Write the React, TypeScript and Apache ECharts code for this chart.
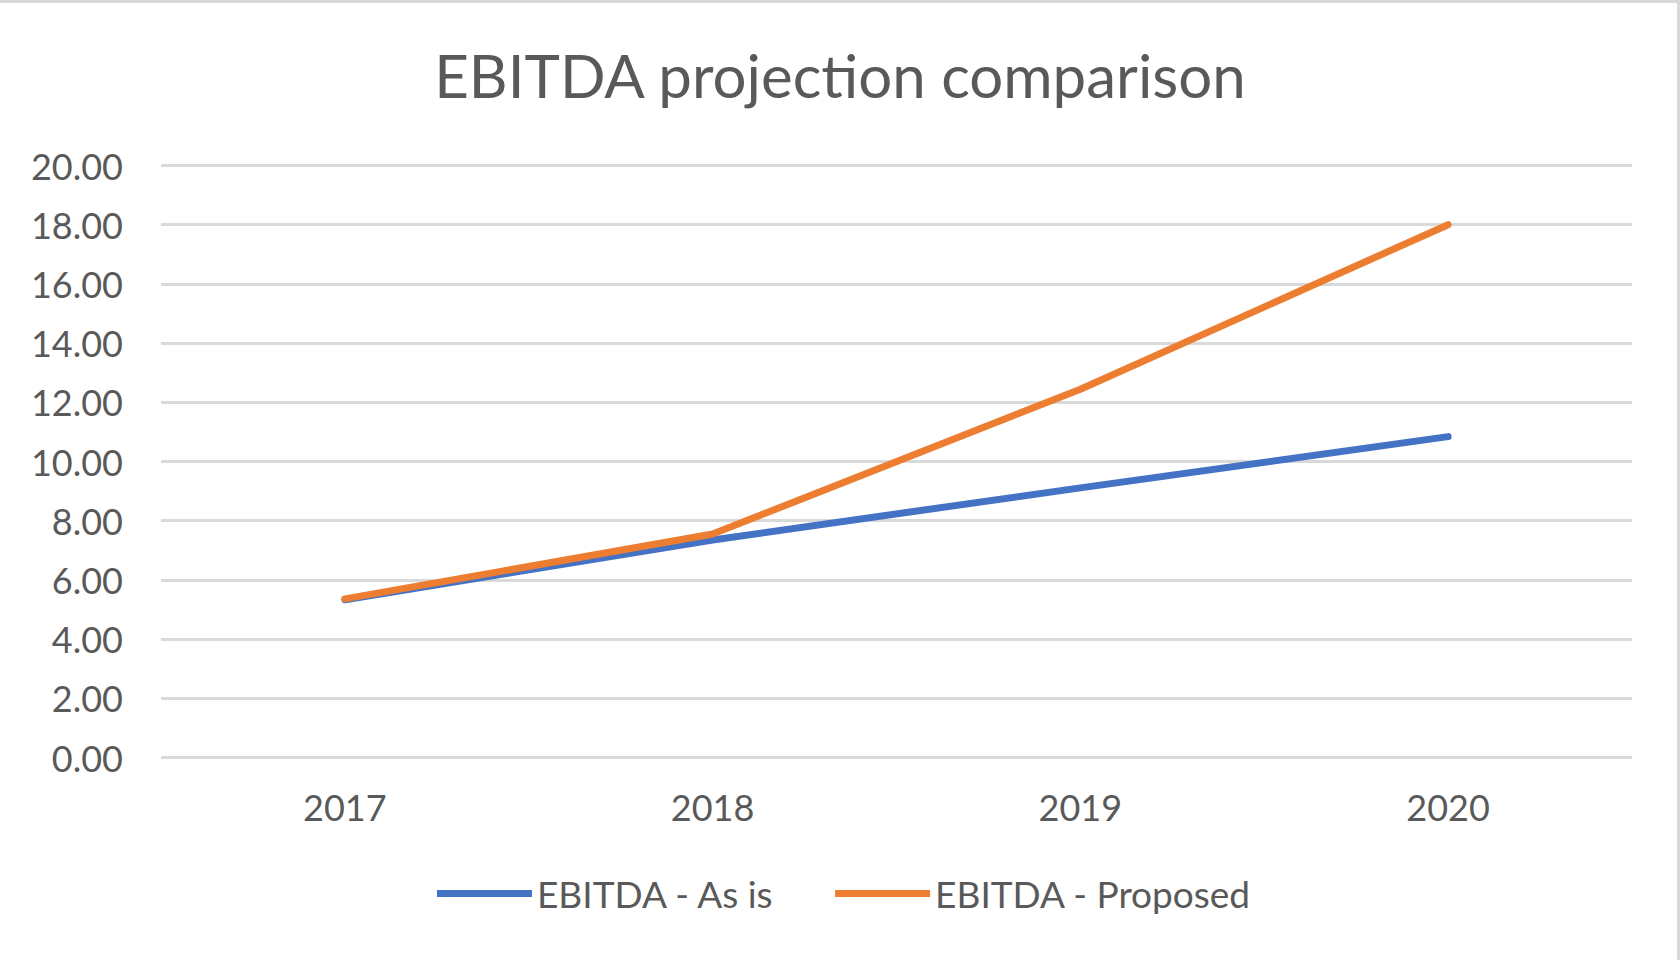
import React, { useEffect, useRef } from "react";
import * as echarts from "echarts";

const categories = ["2017", "2018", "2019", "2020"];
const asIsValues = [5.33, 7.35, 9.11, 10.84];
const proposedValues = [5.36, 7.55, 12.44, 18.0];
const seriesNames = ["EBITDA - As is", "EBITDA - Proposed"];
const yMin = 0;
const yMax = 20;
const yInterval = 2;

const FONT = "Lato";
const TEXT = "#595959";

export default function App() {
  const ref = useRef<HTMLDivElement>(null);
  useEffect(() => {
    if (!ref.current) return;
    const chart = echarts.init(ref.current, undefined, { renderer: "svg" });
    chart.setOption({
      animation: false,
      backgroundColor: "#ffffff",
      title: {
        text: "EBITDA projection comparison",
        left: "center",
        top: 40,
        textStyle: { fontFamily: FONT, fontSize: 60, fontWeight: "normal", color: TEXT },
      },
      legend: {
        data: seriesNames,
        left: 432,
        top: 870,
        icon: "rect",
        itemWidth: 95,
        itemHeight: 7,
        itemGap: 60,
        textStyle: { fontFamily: FONT, fontSize: 37, color: TEXT },
      },
      grid: { left: 161, right: 48, top: 165.5, bottom: 202.5, containLabel: false },
      xAxis: {
        type: "category",
        data: categories,
        boundaryGap: true,
        axisLine: { show: false },
        axisTick: { show: false },
        axisLabel: { fontFamily: FONT, fontSize: 36, color: TEXT, margin: 31 },
      },
      yAxis: {
        type: "value",
        min: yMin,
        max: yMax,
        interval: yInterval,
        axisLine: { show: false },
        axisTick: { show: false },
        axisLabel: {
          fontFamily: FONT,
          fontSize: 36,
          color: TEXT,
          margin: 38,
          padding: [0, 0, 4, 0],
          formatter: (v: number) => v.toFixed(2),
        },
        splitLine: { lineStyle: { color: "#d9d9d9", width: 3 } },
      },
      series: [
        {
          name: seriesNames[0],
          type: "line",
          data: asIsValues,
          symbol: "none",
          color: "#4472C4",
          lineStyle: { width: 7, color: "#4472C4", cap: "round" },
        },
        {
          name: seriesNames[1],
          type: "line",
          data: proposedValues,
          symbol: "none",
          color: "#ED7D31",
          lineStyle: { width: 7, color: "#ED7D31", cap: "round" },
        },
      ],
      graphic: [
        { type: "line", shape: { x1: 0, y1: 1.5, x2: 1680, y2: 1.5 }, style: { stroke: "#d9d9d9", lineWidth: 3 } },
        { type: "line", shape: { x1: 1678.5, y1: 0, x2: 1678.5, y2: 960 }, style: { stroke: "#d9d9d9", lineWidth: 3 } },
      ],
    });
    return () => chart.dispose();
  }, []);
  return (
    <div
      ref={ref}
      style={{ position: "fixed", left: 0, top: 0, width: 1680, height: 960, background: "#fff" }}
    />
  );
}
